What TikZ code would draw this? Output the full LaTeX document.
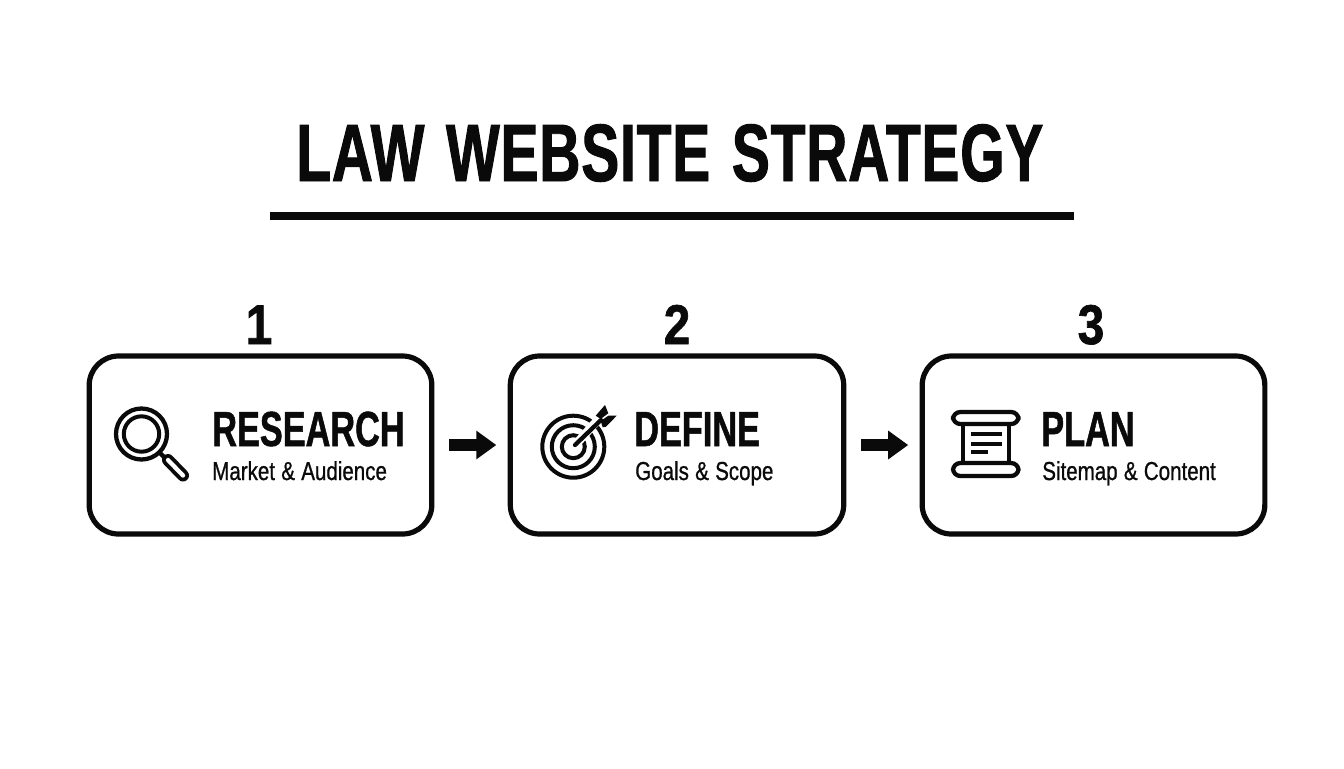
\documentclass[tikz,border=0pt]{standalone}
\usepackage{fontspec}
\usetikzlibrary{arrows.meta}
\setmainfont{Liberation Sans}
\newfontfamily\titlef[FakeStretch=0.70,FakeBold=1.2,WordSpace=1.3,LetterSpace=1.0]{Liberation Sans Bold}
\newfontfamily\headf[FakeStretch=0.695,FakeBold=1.0]{Liberation Sans Bold}
\newfontfamily\numf[FakeStretch=0.85,FakeBold=1.2]{Liberation Sans Bold}
\newfontfamily\subf[FakeStretch=0.79,FakeBold=0.8,WordSpace=1.1]{Liberation Sans}
\definecolor{ink}{HTML}{0A0A0A}
\tikzset{
  x=0.75pt,y=-0.75pt,
  stepbox/.style={draw=ink,line width=3.9pt,rounded corners=22pt,minimum height=133.5pt,inner sep=0pt},
  titletext/.style={anchor=base west,inner sep=0pt,text=ink,font=\titlef\fontsize{61}{61}\selectfont},
  numtext/.style={anchor=base,inner sep=0pt,text=ink,font=\numf\fontsize{42}{42}\selectfont},
  headtext/.style={anchor=base west,inner sep=0pt,text=ink,font=\headf\fontsize{37}{37}\selectfont},
  subtext/.style={anchor=base west,inner sep=0pt,text=ink,font=\subf\fontsize{19.5}{20}\selectfont},
  flow/.style={draw=ink,line width=9pt,-{Triangle[length=15pt,width=20.5pt]},shorten <=11pt,shorten >=8.5pt},
  icon/.style={draw=ink,line width=3.2pt,fill=none,line cap=round,line join=round},
  bar/.style={draw=ink,line width=3pt},
  halo/.style={draw=white,line width=6.5pt},
}
\begin{document}
\begin{tikzpicture}
\useasboundingbox[fill=white] (0,0) rectangle (1344,768);
\node[titletext] (title) at (296,181) {LAW WEBSITE STRATEGY};
\coordinate (ruleL) at (270,216);
\coordinate (ruleR) at (1074,216);
\draw[ink,line width=6.4pt] (ruleL) -- (ruleR);

\node[stepbox,minimum width=257pt] (b1) at (260.5,445) {};
\node[stepbox,minimum width=250.1pt] (b2) at (677,445) {};
\node[stepbox,minimum width=257pt] (b3) at (1093.5,445) {};

\node[numtext] (n1) at (259,344) {1};
\node[numtext] (n2) at (677,344) {2};
\node[numtext] (n3) at (1091,344) {3};

\draw[flow] (b1.east) -- (b2.west);
\draw[flow] (b2.east) -- (b3.west);

\node[headtext] (h1) at (212,446) {RESEARCH};
\node[subtext] (s1) at (212,480) {Market \& Audience};
\node[headtext] (h2) at (634,446) {DEFINE};
\node[subtext] (s2) at (635,480) {Goals \& Scope};
\node[headtext] (h3) at (1041,446) {PLAN};
\node[subtext] (s3) at (1042,480) {Sitemap \& Content};

% magnifier
\draw[icon] (141.5,434) circle (25.5);
\draw[icon,line width=3pt] (141.5,434) circle (17.7);
\draw[icon,line cap=butt] (160,453) -- (166,459);
\draw[ink,line width=9pt,line cap=round] (168,460) -- (183,475.5);
\draw[white,line width=3.2pt,line cap=round] (168,460) -- (183,475.5);

% target
\draw[icon,line width=3pt] (573.3,446.7) circle (31);
\draw[icon,line width=3pt] (573.3,446.7) circle (21.5);
\draw[icon,line width=3pt] (573.3,446.7) circle (11.5);
\draw[halo] (577,443) -- (596,422);
\draw[icon] (575,445) -- (601,420);
\fill[ink] (595.7,415.7) -- (605,405) -- (608.3,413.3) -- (600.7,419) -- cycle;
\fill[ink] (600.7,421) -- (608.3,415.7) -- (616.7,415.7) -- (606,426.7) -- (602.7,427.3) -- cycle;

% scroll
\draw[icon,rounded corners=5.5pt] (953,412) rectangle (1018.5,424);
\draw[icon,rounded corners=5.5pt] (953,463) rectangle (1018.5,476);
\draw[icon,line cap=butt] (963.3,424) -- (963.3,463);
\draw[icon,line cap=butt] (1009,424) -- (1009,463);
\draw[bar] (970.7,434.3) -- (1001.7,434.3);
\draw[bar] (970.7,443.7) -- (1001.7,443.7);
\draw[bar] (970.7,452.3) -- (988,452.3);
\end{tikzpicture}
\end{document}
